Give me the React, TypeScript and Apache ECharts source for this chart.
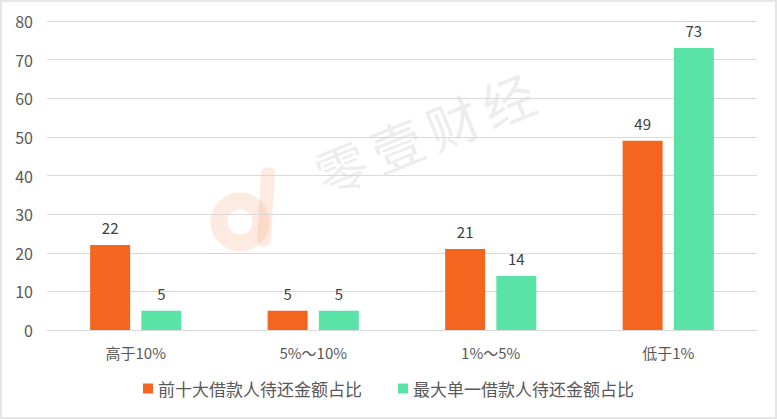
import React, { useEffect, useRef } from "react";
import * as echarts from "echarts";

const categories = ["高于10%", "5%～10%", "1%～5%", "低于1%"];
const seriesNames = ["前十大借款人待还金额占比", "最大单一借款人待还金额占比"];
const top10Values = [22, 5, 21, 49];
const largestValues = [5, 5, 14, 73];
const yTicks = { min: 0, max: 80, interval: 10 };
const watermarkChars = ["零", "壹", "财", "经"];

export default function App() {
  const ref = useRef<HTMLDivElement>(null);
  useEffect(() => {
    if (!ref.current) return;
    const chart = echarts.init(ref.current, null, { renderer: "svg" });
    const font = "'Noto Sans CJK SC', 'Open Sans', sans-serif";
    chart.setOption({
      animation: false,
      backgroundColor: "#ffffff",
      grid: { left: 45, right: 18, top: 19, bottom: 87, containLabel: false },
      graphic: [
        {
          type: "group",
          x: 305,
          y: 150,
          rotation: (22 * Math.PI) / 180,
          z: -1,
          children: watermarkChars.map((c, i) => ({
            type: "text",
            x: i * 60,
            y: 0,
            style: {
              text: c,
              font: "52px 'Noto Sans CJK SC'",
              fill: "rgba(150,150,150,0.17)",
              verticalAlign: "top",
            },
          })),
        },
        {
          type: "circle",
          shape: { cx: 238, cy: 220, r: 21 },
          style: { fill: "none", stroke: "rgba(240,120,60,0.15)", lineWidth: 17 },
          z: -1,
        },
        {
          type: "line",
          shape: { x1: 262, y1: 238, x2: 266, y2: 172 },
          style: { stroke: "rgba(240,120,60,0.15)", lineWidth: 14, lineCap: "round" },
          z: -1,
        },
      ],
      legend: {
        bottom: 15,
        left: "center",
        itemWidth: 10,
        itemHeight: 10,
        itemGap: 36,
        icon: "rect",
        textStyle: { fontSize: 17, color: "#595959", fontFamily: font },
        data: seriesNames,
      },
      xAxis: {
        type: "category",
        data: categories,
        axisLine: { show: true, lineStyle: { color: "#d9d9d9", width: 1 } },
        axisTick: { show: false },
        axisLabel: { fontSize: 15, color: "#595959", margin: 15, fontFamily: font },
      },
      yAxis: {
        type: "value",
        min: yTicks.min,
        max: yTicks.max,
        interval: yTicks.interval,
        axisLine: { show: false },
        axisTick: { show: false },
        splitLine: { lineStyle: { color: "#d9d9d9", width: 1 } },
        axisLabel: { fontSize: 16, color: "#595959", margin: 14, fontFamily: font },
      },
      series: [
        {
          name: seriesNames[0],
          type: "bar",
          data: top10Values,
          barWidth: 40,
          barGap: "28%",
          itemStyle: { color: "#F4661F" },
          label: { show: true, position: "top", distance: 10, fontSize: 15, color: "#404040", fontFamily: font },
        },
        {
          name: seriesNames[1],
          type: "bar",
          data: largestValues,
          barWidth: 40,
          itemStyle: { color: "#5BE2A7" },
          label: { show: true, position: "top", distance: 10, fontSize: 15, color: "#404040", fontFamily: font },
        },
      ],
    });
    return () => chart.dispose();
  }, []);
  return (
    <div
      style={{
        position: "fixed",
        left: 0,
        top: 0,
        width: 777,
        height: 419,
        boxSizing: "border-box",
        border: "2px solid #e6e6e6",
        background: "#fff",
      }}
    >
      <div ref={ref} style={{ width: 773, height: 415 }} />
    </div>
  );
}
